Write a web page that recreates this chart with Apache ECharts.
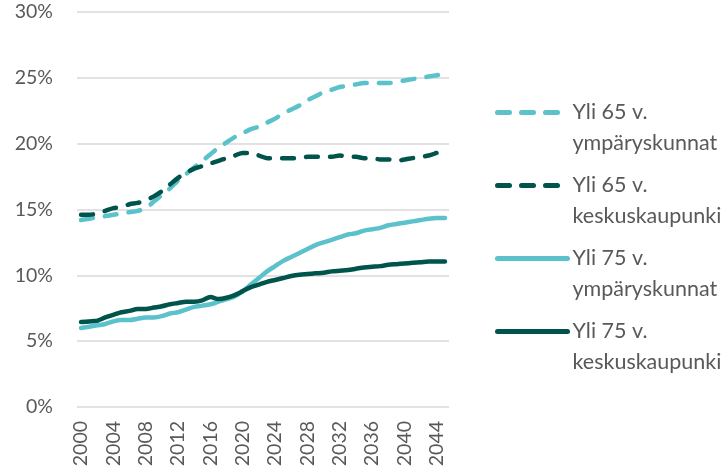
<!DOCTYPE html>
<html>
<head>
<meta charset="utf-8">
<script src="https://cdn.jsdelivr.net/npm/echarts@6/dist/echarts.min.js"></script>
<style>
  html, body { margin: 0; padding: 0; background: #fff; }
  #chart { width: 722px; height: 476px; }
</style>
</head>
<body>
<div id="chart"></div>
<script>
// vuodet 2000-2045
const years = []
for (let y = 2000; y <= 2045; y++) years.push(String(y))

const seriesNames = [
  'Yli 65 v.\nympäryskunnat',
  'Yli 65 v.\nkeskuskaupunki',
  'Yli 75 v.\nympäryskunnat',
  'Yli 75 v.\nkeskuskaupunki',
]

// osuudet (%)
const over65Surround = [
  14.2, 14.3, 14.4, 14.5, 14.6, 14.7, 14.8, 14.9, 15.1, 15.6,
  16.1, 16.6, 17.2, 17.7, 18.2, 18.7, 19.2, 19.7, 20.1, 20.5,
  20.8, 21.1, 21.3, 21.6, 21.9, 22.3, 22.6, 22.9, 23.3, 23.6,
  23.9, 24.1, 24.3, 24.4, 24.5, 24.6, 24.6, 24.6, 24.6, 24.7,
  24.8, 24.9, 25.0, 25.1, 25.2, 25.3,
]
const over65Center = [
  14.6, 14.6, 14.7, 14.9, 15.1, 15.2, 15.4, 15.5, 15.7, 16.0,
  16.4, 16.9, 17.4, 17.8, 18.1, 18.3, 18.5, 18.7, 18.9, 19.1,
  19.3, 19.3, 19.1, 18.9, 18.9, 18.9, 18.9, 18.9, 19.0, 19.0,
  19.0, 19.0, 19.1, 19.0, 19.0, 18.9, 18.9, 18.8, 18.8, 18.7,
  18.8, 18.9, 19.0, 19.1, 19.3, 19.5,
]
const over75Surround = [
  6.0, 6.1, 6.2, 6.3, 6.5, 6.6, 6.6, 6.7, 6.8, 6.8,
  6.9, 7.1, 7.2, 7.4, 7.6, 7.7, 7.8, 8.0, 8.2, 8.4,
  8.8, 9.3, 9.8, 10.3, 10.7, 11.1, 11.4, 11.7, 12.0, 12.3,
  12.5, 12.7, 12.9, 13.1, 13.2, 13.4, 13.5, 13.6, 13.8, 13.9,
  14.0, 14.1, 14.2, 14.3, 14.35, 14.35,
]
const over75Center = [
  6.45, 6.5, 6.55, 6.8, 7.0, 7.2, 7.3, 7.45, 7.45, 7.55,
  7.65, 7.8, 7.9, 8.0, 8.0, 8.1, 8.35, 8.2, 8.3, 8.5,
  8.8, 9.1, 9.3, 9.5, 9.65, 9.8, 9.95, 10.05, 10.1, 10.15,
  10.2, 10.3, 10.35, 10.4, 10.5, 10.6, 10.65, 10.7, 10.8, 10.85,
  10.9, 10.95, 11.0, 11.05, 11.05, 11.05,
]

const lightColor = '#5bc1cb'
const darkColor = '#00544b'
const textGray = '#595959'
const fontFamily = 'Lato, "Open Sans", sans-serif'

const makeLine = (name, data, color, dashed) => ({
  name,
  type: 'line',
  data,
  symbol: 'none',
  smooth: 0.3,
  lineStyle: {
    color,
    width: 4.5,
    type: dashed ? [12, 12] : 'solid',
    cap: 'round',
  },
  itemStyle: { color },
})

const chart = echarts.init(document.getElementById('chart'))
chart.setOption({
  animation: false,
  textStyle: { fontFamily },
  grid: { left: 77, right: 273, top: 12, bottom: 69 },
  legend: {
    orient: 'vertical',
    left: 490,
    top: 61,
    itemWidth: 70,
    itemHeight: 14,
    itemGap: -20,
    // tyhjä ensimmäinen rivi: viiva tasataan ensimmäisen tekstirivin kohdalle
    formatter: name => '\n' + name,
    itemStyle: { opacity: 0 },
    lineStyle: { width: 5 },
    textStyle: { color: textGray, fontSize: 21.5, lineHeight: 31, fontFamily },
    data: seriesNames,
  },
  xAxis: {
    type: 'category',
    data: years,
    boundaryGap: true,
    axisLine: { show: false },
    axisTick: { show: false },
    axisLabel: {
      interval: 3,
      rotate: 90,
      color: textGray,
      fontSize: 19.5,
      margin: 14,
      fontFamily,
    },
  },
  yAxis: {
    type: 'value',
    min: 0,
    max: 30,
    interval: 5,
    axisLabel: {
      formatter: '{value}%',
      color: textGray,
      fontSize: 19.5,
      margin: 24,
      fontFamily,
    },
    splitLine: { lineStyle: { color: '#d9d9d9', width: 1.5 } },
  },
  series: [
    makeLine(seriesNames[0], over65Surround, lightColor, true),
    makeLine(seriesNames[1], over65Center, darkColor, true),
    makeLine(seriesNames[2], over75Surround, lightColor, false),
    makeLine(seriesNames[3], over75Center, darkColor, false),
  ],
})
</script>
</body>
</html>
